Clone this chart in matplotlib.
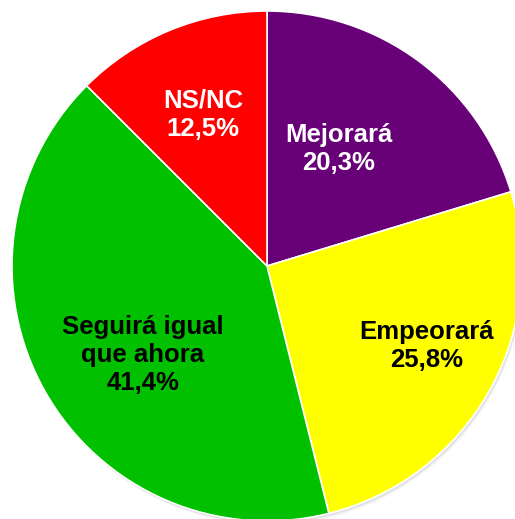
import matplotlib.pyplot as plt
from matplotlib.patches import Circle

labels = ['Mejorará', 'Empeorará', 'Seguirá igual\nque ahora', 'NS/NC']
values = [20.3, 25.8, 41.4, 12.5]
colors = ['#680078', '#ffff00', '#00c000', '#ff0000']
text_colors = ['white', 'black', 'black', 'white']
# label centres in pixels (x, y from top)
label_px = [(339, 149), (427, 346), (143, 355), (203, 115)]

W, H = 515, 519
cx, cy, R = 267, 266, 255

plt.rcParams['font.family'] = ['Liberation Sans', 'DejaVu Sans']

fig = plt.figure(figsize=(W / 100, H / 100), dpi=100)
ax = fig.add_axes([0, 0, 1, 1])

# soft shadow
for k, a in [(4, 0.06), (3, 0.08), (2, 0.12)]:
    ax.add_patch(Circle((k * 0.6 / R, -k / R), 1.0, color='#808080', alpha=a, lw=0, zorder=0))

ax.pie(values, colors=colors, startangle=90, counterclock=False, radius=1.0,
       wedgeprops=dict(edgecolor='white', linewidth=1.2), frame=True)
ax.set_xlim(-cx / R, (W - cx) / R)
ax.set_ylim(-(H - cy) / R, cy / R)
ax.set_aspect('auto')
ax.axis('off')

for lab, v, tc, (px, py) in zip(labels, values, text_colors, label_px):
    txt = f"{lab}\n{v:.1f}%".replace('.', ',')
    ax.text((px - cx) / R, (cy - py) / R, txt, ha='center', va='center',
            fontsize=18.5, fontweight='bold', color=tc, linespacing=1.22)

fig.savefig('out.png', dpi=100)
